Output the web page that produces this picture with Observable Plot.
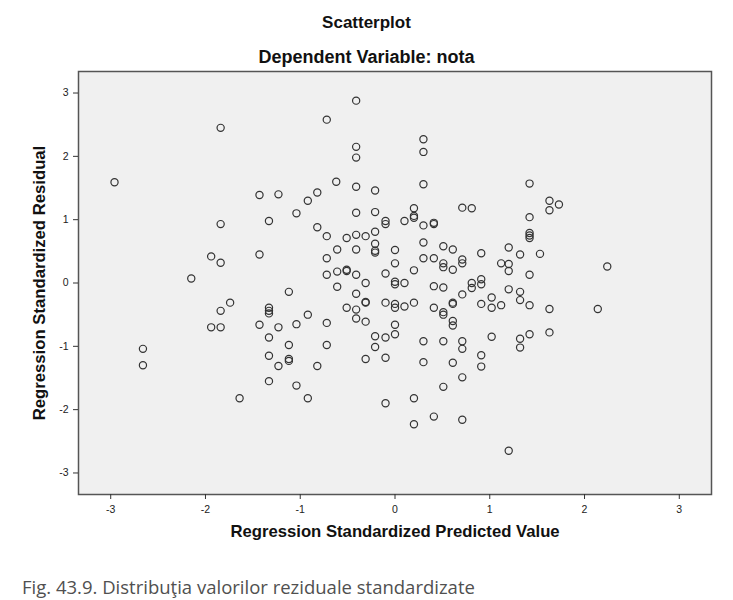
<!DOCTYPE html>
<html>
<head>
<meta charset="utf-8">
<script src="https://cdn.jsdelivr.net/npm/d3@7"></script>
<script src="https://cdn.jsdelivr.net/npm/@observablehq/plot@0.6"></script>
<style>
  html, body { margin: 0; padding: 0; background: #fff; }
  #wrap { position: relative; width: 733px; height: 600px; overflow: hidden; }
  .ttl { position: absolute; left: 0; width: 733px; text-align: center; font-family: "Liberation Sans", Arial, sans-serif; font-weight: bold; color: #111; line-height: 20px; }
  #t1 { top: 13px; font-size: 17px; }
  #t2 { top: 47px; font-size: 18px; }
  #chart { position: absolute; left: 0; top: 62px; }
  #cap { position: absolute; left: 22px; top: 575px; font-family: "Open Sans", sans-serif; font-size: 18.5px; color: #505050; line-height: 24px; }
</style>
</head>
<body>
<div id="wrap">
  <div class="ttl" id="t1">Scatterplot</div>
  <div class="ttl" id="t2">Dependent Variable: nota</div>
  <div id="chart"></div>
  <div id="cap">Fig. 43.9. Distribuţia valorilor reziduale standardizate</div>
</div>
<script>
const predicted = [
  -1.84,-2.96,-1.43,-1.23,-1.04,-1.33,-1.84,-1.43,-1.94,-1.84,-2.15,
  -1.12,-1.74,-1.84,-1.33,-1.33,-1.33,-1.94,-1.84,-1.43,-1.23,-1.04,-1.33,-1.12,-2.66,-1.33,-1.12,-1.12,-1.23,-2.66,-1.33,-1.04,-1.64,
  -0.41,-0.72,0.30,0.30,-0.41,-0.41,-0.62,-0.82,-0.92,-0.41,-0.21,0.30,-0.41,-0.21,0.20,0.20,0.20,-0.10,-0.10,0.10,0.30,0.41,0.41,0.71,0.81,
  -0.82,-0.72,-0.51,-0.41,-0.31,-0.21,-0.21,-0.21,-0.21,-0.61,-0.41,0.00,0.30,0.51,0.61,0.91,1.20,-0.72,0.00,0.30,0.41,0.51,0.51,0.71,0.71,
  0.61,1.12,1.20,1.20,-0.72,-0.61,-0.51,-0.51,-0.41,-0.31,-0.10,0.20,0.00,0.00,0.10,0.41,0.51,0.81,0.81,0.91,0.91,
  -0.61,1.20,-0.41,-0.31,-0.31,-0.51,-0.41,-0.10,0.00,0.00,0.10,0.20,0.41,0.51,0.51,0.61,0.61,0.71,0.91,1.02,1.02,1.12,
  -0.92,-0.72,-0.41,-0.31,0.00,0.00,-0.21,-0.10,-0.21,0.61,0.61,-0.72,-0.82,-0.31,-0.10,0.30,0.51,0.71,0.71,1.02,
  0.30,0.61,0.91,0.91,0.71,0.51,-0.92,-0.10,0.20,0.41,0.20,0.71,1.20,
  1.42,1.63,1.73,1.63,1.42,1.42,1.42,1.42,1.32,1.53,1.42,2.24,
  1.32,1.32,1.42,1.63,2.14,1.32,1.32,1.42,1.63
];
const residual = [
  2.45,1.59,1.39,1.40,1.10,0.98,0.93,0.45,0.42,0.32,0.07,
  -0.14,-0.31,-0.44,-0.39,-0.44,-0.48,-0.70,-0.70,-0.66,-0.70,-0.65,-0.86,-0.98,-1.04,-1.15,-1.20,-1.23,-1.31,-1.30,-1.55,-1.62,-1.82,
  2.88,2.58,2.27,2.07,2.15,1.98,1.60,1.43,1.30,1.52,1.46,1.56,1.11,1.12,1.18,1.06,1.03,0.98,0.93,0.98,0.91,0.95,0.93,1.19,1.18,
  0.88,0.74,0.71,0.76,0.74,0.81,0.62,0.51,0.48,0.53,0.53,0.52,0.64,0.58,0.53,0.47,0.56,0.39,0.31,0.39,0.39,0.31,0.25,0.37,0.31,
  0.21,0.31,0.30,0.19,0.13,0.18,0.21,0.19,0.13,0.00,0.15,0.20,0.02,-0.02,0.00,-0.05,-0.07,0.00,-0.08,0.06,-0.02,
  -0.06,-0.10,-0.17,-0.30,-0.31,-0.39,-0.42,-0.31,-0.33,-0.39,-0.37,-0.31,-0.39,-0.46,-0.50,-0.31,-0.33,-0.18,-0.33,-0.23,-0.39,-0.35,
  -0.50,-0.63,-0.56,-0.61,-0.66,-0.81,-0.84,-0.86,-1.01,-0.60,-0.67,-0.98,-1.31,-1.20,-1.18,-0.92,-0.92,-0.92,-1.04,-0.85,
  -1.25,-1.26,-1.14,-1.32,-1.49,-1.64,-1.82,-1.90,-1.82,-2.11,-2.23,-2.16,-2.65,
  1.57,1.30,1.24,1.15,1.04,0.79,0.75,0.71,0.45,0.46,0.13,0.26,
  -0.14,-0.27,-0.35,-0.41,-0.41,-0.88,-1.02,-0.81,-0.78
];
const xTicks = [-3, -2, -1, 0, 1, 2, 3];
const yTicks = [-3, -2, -1, 0, 1, 2, 3];
const xLabel = "Regression Standardized Predicted Value";
const yLabel = "Regression Standardized Residual";

const points = predicted.map((x, i) => ({x, y: residual[i]}));

const chart = Plot.plot({
  width: 733,
  height: 498,
  marginLeft: 78,
  marginRight: 22,
  marginTop: 9,
  marginBottom: 66,
  style: {fontFamily: "'Liberation Sans', Arial, sans-serif", fontSize: "10.5px", color: "#222", background: "transparent"},
  x: {domain: [-3.34, 3.34]},
  y: {domain: [-3.34, 3.34]},
  marks: [
    Plot.frame({fill: "#f0f0f0", stroke: "#555", strokeWidth: 1.5}),
    Plot.axisX({ticks: xTicks, tickFormat: d => String(d), tickSize: 5, tickPadding: 6, label: null, stroke: "#333"}),
    Plot.axisY({ticks: yTicks, tickFormat: d => String(d), tickSize: 5, tickPadding: 5, label: null, stroke: "#333"}),
    Plot.dot(points, {x: "x", y: "y", r: 3.6, stroke: "#333", strokeWidth: 1.2, fill: "none"}),
    Plot.text([xLabel], {frameAnchor: "bottom", dy: 42, text: d => d, fontSize: 16.7, fontWeight: "bold", fill: "#111"}),
    Plot.text([yLabel], {frameAnchor: "left", textAnchor: "middle", dx: -39, rotate: -90, text: d => d, fontSize: 16.7, fontWeight: "bold", fill: "#111"})
  ]
});
document.getElementById("chart").appendChild(chart);
</script>
</body>
</html>
